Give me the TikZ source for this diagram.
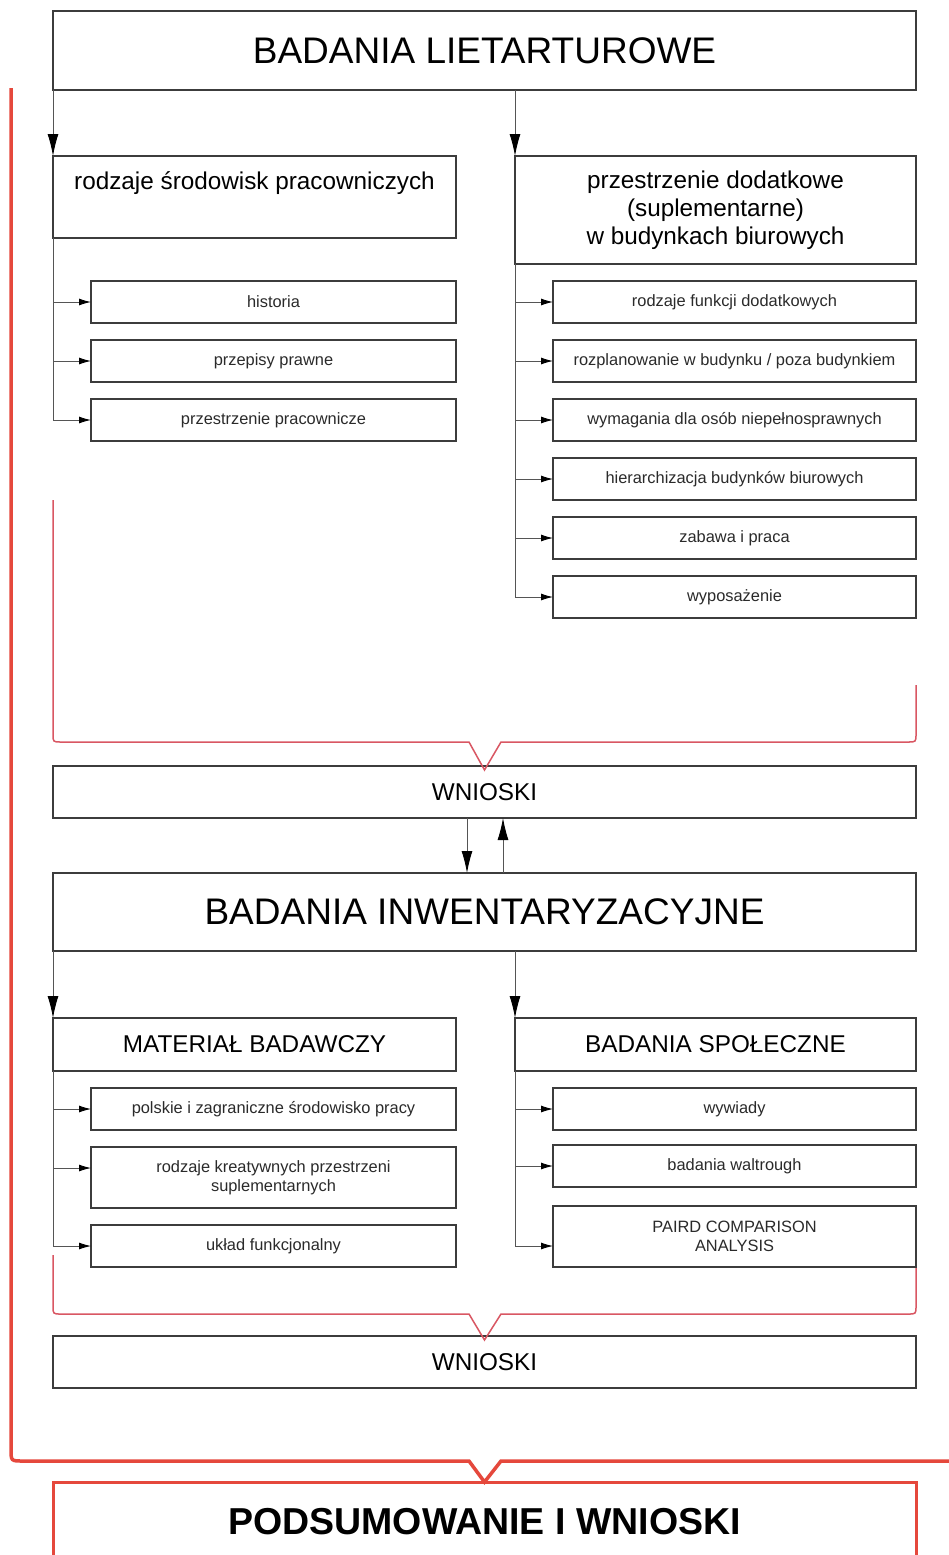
\documentclass[tikz,border=0pt]{standalone}
\usepackage{fontspec}
\setmainfont{Liberation Sans}
\usetikzlibrary{arrows.meta}
\definecolor{boxline}{HTML}{3C3C3C}
\definecolor{conn}{HTML}{555555}
\definecolor{redA}{HTML}{E5483C}
\definecolor{redB}{HTML}{D95763}
\definecolor{txt}{HTML}{2A2A2A}
\begin{document}
\begin{tikzpicture}[x=1pt,y=-1pt,
  box/.style={draw=boxline, line width=1.3pt, rectangle, inner sep=0pt, outer sep=0pt},
  bigtxt/.style={font=\fontsize{37}{44}\selectfont},
  midtxt/.style={font=\fontsize{24.3}{28}\selectfont, align=center},
  captxt/.style={font=\fontsize{24.3}{28}\selectfont},
  smallbox/.style={box, minimum height=42, font=\fontsize{16.4}{19}\selectfont, text=txt, align=center},
  smallL/.style={smallbox, minimum width=365},
  smallR/.style={smallbox, minimum width=363},
  arrS/.style={draw=conn, line width=0.9pt, -{Latex[length=12pt,width=7pt,color=black]}},
  arrB/.style={draw=conn, line width=0.9pt, -{Latex[length=22pt,width=11pt,color=black]}},
  thinred/.style={draw=redB, line width=1.5pt, line join=miter},
  thickred/.style={draw=redA, line width=3.5pt, line join=miter}
]
\fill[white] (0,0) rectangle (948,1555);
\useasboundingbox (0,0) rectangle (948,1555);

% ---------- part 1 ----------
\node[box, bigtxt, minimum width=863, minimum height=79] (top) at (484.5,50.5) {BADANIA LIETARTUROWE};
\node[box, minimum width=403, minimum height=82] (sub1) at (254.5,197) {};
\node[midtxt] (t1) at (254.5,183) {rodzaje środowisk pracowniczych};
\node[box, midtxt, minimum width=401, minimum height=108] (sub2) at (715.5,210) {przestrzenie dodatkowe\\(suplementarne)\\w budynkach biurowych};

\draw[arrB] (top.south west) -- (sub1.north west);
\draw[arrB] (sub2.north west |- top.south) -- (sub2.north west);

\node[smallL] (l1) at (273.5,302) {historia};
\node[smallL] (l2) at (273.5,361) {przepisy prawne};
\node[smallL] (l3) at (273.5,420) {przestrzenie pracownicze};
\foreach \n in {l1,l2,l3} \draw[arrS] (sub1.south west) |- (\n.west);

\node[smallR] (r1) at (734.5,302) {rodzaje funkcji dodatkowych};
\node[smallR] (r2) at (734.5,361) {rozplanowanie w budynku / poza budynkiem};
\node[smallR] (r3) at (734.5,420) {wymagania dla osób niepełnosprawnych};
\node[smallR] (r4) at (734.5,479) {hierarchizacja budynków biurowych};
\node[smallR] (r5) at (734.5,538) {zabawa i praca};
\node[smallR] (r6) at (734.5,597) {wyposażenie};
\foreach \n in {r1,r2,r3,r4,r5,r6} \draw[arrS] (sub2.south west) |- (\n.west);

\node[box, captxt, minimum width=863, minimum height=52] (w1) at (484.5,792) {WNIOSKI};

\draw[thinred] (53,500) -- (53,734) .. controls (53,742) .. (61,742) -- (469,742)
  -- ([yshift=-4pt]w1.north) -- (501,742) -- (908,742) .. controls (916,742) .. (916,734) -- (916,685);

% ---------- part 2 ----------
\node[box, bigtxt, minimum width=863, minimum height=78] (inw) at (484.5,912) {BADANIA INWENTARYZACYJNE};
\draw[arrB] ([xshift=-17.5pt]w1.south) -- ([xshift=-17.5pt]w1.south |- inw.north);
\draw[arrB] ([xshift=18.5pt]w1.south |- inw.north) -- ([xshift=18.5pt]w1.south);

\node[box, captxt, minimum width=403, minimum height=53] (mat) at (254.5,1044.5) {MATERIAŁ BADAWCZY};
\node[box, captxt, minimum width=401, minimum height=53] (spo) at (715.5,1044.5) {BADANIA SPOŁECZNE};
\draw[arrB] (inw.south west) -- (mat.north west);
\draw[arrB] (spo.north west |- inw.south) -- (spo.north west);

\node[smallL] (m1) at (273.5,1109) {polskie i zagraniczne środowisko pracy};
\node[smallL, minimum height=61] (m2) at (273.5,1177.5) {rodzaje kreatywnych przestrzeni\\suplementarnych};
\node[smallL] (m3) at (273.5,1246) {układ funkcjonalny};
\draw[arrS] (mat.south west) |- (m1.west);
\draw[arrS] (mat.south west) |- ([yshift=9.5pt]m2.west);
\draw[arrS] (mat.south west) |- (m3.west);

\node[smallR] (s1) at (734.5,1109) {wywiady};
\node[smallR] (s2) at (734.5,1166) {badania waltrough};
\node[smallR, minimum height=61] (s3) at (734.5,1236.5) {PAIRD COMPARISON\\ANALYSIS};
\draw[arrS] (spo.south west) |- (s1.west);
\draw[arrS] (spo.south west) |- (s2.west);
\draw[arrS] (spo.south west) |- ([yshift=-9.5pt]s3.west);

\node[box, captxt, minimum width=863, minimum height=52] (w2) at (484.5,1362) {WNIOSKI};

\draw[thinred] (53,1255) -- (53,1306) .. controls (53,1314) .. (61,1314) -- (469,1314)
  -- ([yshift=-4pt]w2.north) -- (501,1314) -- (908,1314) .. controls (916,1314) .. (916,1306) -- (916,1268);

% ---------- summary ----------
\node[draw=redA, line width=3pt, rectangle, inner sep=0pt, outer sep=0pt, minimum width=863, minimum height=80,
  font=\bfseries\fontsize{37.5}{44}\selectfont] (pods) at (484.5,1522) {PODSUMOWANIE I WNIOSKI};

\draw[thickred] (11,88) -- (11,1449) .. controls (11,1461) .. (23,1461) -- (469,1461)
  -- (pods.north) -- (501,1461) -- (950,1461);
\end{tikzpicture}
\end{document}
